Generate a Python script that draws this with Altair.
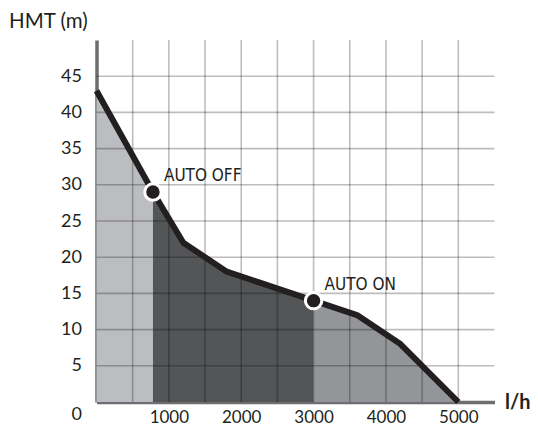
import altair as alt
import pandas as pd

# curve
flow = [0, 780, 1200, 1800, 3000, 3600, 4200, 5000]
head = [43, 29, 22, 18, 14, 12, 8, 0]

# filled zones (boundaries at the AUTO OFF / AUTO ON points)
zone_names = ["a", "b", "c"]
zone_colors = ["#bcbdc0", "#545557", "#939598"]
zone_points = [
    ([0, 780], [43, 29]),
    ([780, 1200, 1800, 3000], [29, 22, 18, 14]),
    ([3000, 3600, 4200, 5000], [14, 12, 8, 0]),
]

auto_flow = [780, 3000]
auto_head = [29, 14]
auto_label = ["AUTO OFF", "AUTO ON"]

x_ticks = [1000, 2000, 3000, 4000, 5000]
y_ticks = [0, 5, 10, 15, 20, 25, 30, 35, 40, 45]
x_grid = [500, 1000, 1500, 2000, 2500, 3000, 3500, 4000, 4500, 5000]
y_grid = [5, 10, 15, 20, 25, 30, 35, 40, 45]

rows = []
for name, (xs, ys) in zip(zone_names, zone_points):
    for xv, yv in zip(xs, ys):
        rows.append({"zone": name, "flow": xv, "head": yv})
area_df = pd.DataFrame(rows)
line_df = pd.DataFrame({"flow": flow, "head": head})
pts_df = pd.DataFrame({"flow": auto_flow, "head": auto_head, "label": auto_label})
xg_df = pd.DataFrame({"v": x_grid})
yg_df = pd.DataFrame({"v": y_grid})

FONT = "Lato"
INK = "#231f20"
AXIS_GRAY = "#6d6e71"

xscale = alt.Scale(domain=[0, 5500], nice=False, zero=True)
yscale = alt.Scale(domain=[0, 50], nice=False, zero=True)

x_axis = alt.Axis(
    values=x_ticks, format="d", ticks=False, grid=False, domainColor=AXIS_GRAY, domainWidth=3.5,
    labelFont=FONT, labelFontSize=17, labelColor=INK, labelPadding=7,
    title="l/h", titleFont=FONT, titleFontSize=20, titleFontWeight="bold",
    titleColor=INK, titleAlign="left", titleBaseline="middle", titleX=408, titleY=0,
    titleAnchor="start",
)
y_axis = alt.Axis(
    values=y_ticks, format="d", ticks=False, grid=False, domainColor=AXIS_GRAY, domainWidth=3.5,
    labelFont=FONT, labelFontSize=18, labelColor=INK, labelPadding=15,
    labelOffset={"condition": {"test": "datum.value === 0", "value": 12}, "value": 0},
    title="HMT (m)", titleFont=FONT, titleFontSize=20.5, titleFontWeight="normal",
    titleColor=INK, titleAngle=0, titleAlign="left", titleBaseline="top",
    titleX=-88, titleY=-29, titleAnchor="start",
)

areas = alt.Chart(area_df).mark_area(opacity=1).encode(
    x=alt.X("flow:Q", scale=xscale, axis=x_axis),
    y=alt.Y("head:Q", scale=yscale, axis=y_axis, stack=None),
    color=alt.Color("zone:N", scale=alt.Scale(domain=zone_names, range=zone_colors), legend=None),
    detail="zone:N",
)

vgrid = alt.Chart(xg_df).mark_rule(color="black", opacity=0.26, strokeWidth=1.6).encode(
    x=alt.X("v:Q", scale=xscale)
)
hgrid = alt.Chart(yg_df).mark_rule(color="black", opacity=0.26, strokeWidth=1.6).encode(
    y=alt.Y("v:Q", scale=yscale)
)

curve = alt.Chart(line_df).mark_line(color=INK, strokeWidth=6, strokeJoin="round").encode(
    x=alt.X("flow:Q", scale=xscale),
    y=alt.Y("head:Q", scale=yscale),
)

dots = alt.Chart(pts_df).mark_point(
    filled=True, fill=INK, stroke="white", strokeWidth=3, size=270, opacity=1, shape="circle"
).encode(
    x=alt.X("flow:Q", scale=xscale),
    y=alt.Y("head:Q", scale=yscale),
)

labels = alt.Chart(pts_df).mark_text(
    font="DejaVu Sans Condensed", fontSize=17, color=INK, align="left",
    baseline="alphabetic", dx=11, dy=-11,
).encode(
    x=alt.X("flow:Q", scale=xscale),
    y=alt.Y("head:Q", scale=yscale),
    text="label:N",
)

chart = alt.layer(areas, vgrid, hgrid, curve, dots, labels).properties(
    width=398, height=362,
    autosize=alt.AutoSizeParams(type="none"),
    padding={"left": 88.5, "top": 32, "right": 35, "bottom": 24},
).configure_view(stroke=None)

chart.save("out.html", embed_options={"renderer": "svg", "actions": False})
